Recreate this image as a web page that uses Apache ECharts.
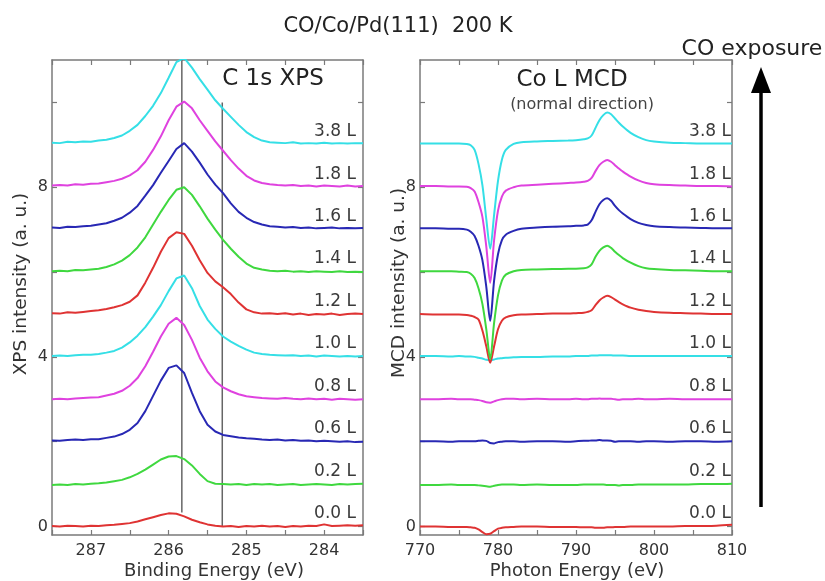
<!DOCTYPE html>
<html><head><meta charset="utf-8">
<script src="https://cdn.jsdelivr.net/npm/echarts@6/dist/echarts.min.js"></script>
<style>html,body{margin:0;padding:0;background:#fff}#c{width:825px;height:581px}</style>
</head><body><div id="c"></div>
<script>
// ---------------- DATA ----------------
const exposures = ['0.0 L','0.2 L','0.6 L','0.8 L','1.0 L','1.2 L','1.4 L','1.6 L','1.8 L','3.8 L'];
const baselines = [0,1,2,3,4,5,6,7,8,9];
const yTicks = [0,2,4,6,8,10];
const yLabels = [0,4,8];

// C 1s XPS : binding energy (eV)
const xpsEnergy = [287.5,287.4,287.3,287.2,287.1,287.0,286.9,286.8,286.7,286.6,286.5,286.4,286.3,286.2,286.1,286.0,285.9,285.8,285.7,285.6,285.5,285.4,285.3,285.2,285.1,285.0,284.9,284.8,284.7,284.6,284.5,284.4,284.3,284.2,284.1,284.0,283.9,283.8,283.7,283.6,283.5];
const xps_00 = [0.01,0.00,0.02,0.01,0.00,0.02,0.01,0.03,0.04,0.06,0.08,0.12,0.17,0.22,0.27,0.31,0.30,0.24,0.16,0.10,0.05,0.02,0.00,0.01,-0.01,0.01,0.00,0.02,0.00,0.01,-0.01,0.01,0.00,0.02,0.01,0.05,0.01,0.02,0.03,0.02,0.03];
const xps_02 = [0.98,0.99,0.98,1.00,0.99,1.01,1.02,1.04,1.07,1.10,1.16,1.24,1.34,1.46,1.58,1.65,1.66,1.59,1.44,1.24,1.07,1.01,1.00,0.99,1.00,0.98,1.00,0.99,1.00,0.98,0.99,1.00,0.98,0.99,1.00,0.99,0.98,1.00,0.99,1.00,1.01];
const xps_06 = [2.03,2.02,2.04,2.05,2.04,2.06,2.06,2.09,2.12,2.18,2.28,2.44,2.72,3.08,3.44,3.74,3.80,3.62,3.15,2.72,2.40,2.24,2.16,2.13,2.10,2.08,2.07,2.05,2.04,2.05,2.03,2.04,2.02,2.03,2.01,2.02,2.01,2.00,2.01,1.99,2.00];
const xps_08 = [3.00,3.01,3.00,3.02,3.03,3.04,3.05,3.09,3.13,3.20,3.32,3.50,3.78,4.12,4.48,4.78,4.92,4.75,4.40,3.98,3.66,3.42,3.28,3.19,3.12,3.07,3.05,3.03,3.02,3.01,3.03,3.01,3.00,3.02,3.00,3.01,2.99,3.01,3.00,2.99,3.00];
const xps_10 = [4.02,4.03,4.02,4.04,4.05,4.05,4.07,4.10,4.14,4.22,4.34,4.50,4.70,4.95,5.22,5.55,5.85,5.92,5.62,5.20,4.88,4.66,4.48,4.36,4.26,4.17,4.10,4.07,4.05,4.04,4.03,4.04,4.02,4.03,4.01,4.03,4.02,4.01,4.02,4.01,4.02];
const xps_12 = [5.03,5.02,5.05,5.04,5.06,5.08,5.10,5.13,5.17,5.22,5.30,5.45,5.75,6.10,6.48,6.80,6.94,6.90,6.62,6.28,5.98,5.78,5.64,5.48,5.28,5.12,5.05,5.02,5.03,5.01,5.03,5.00,5.02,4.99,5.01,5.00,5.02,4.99,5.01,5.02,5.01];
const xps_14 = [6.02,6.03,6.02,6.05,6.04,6.06,6.08,6.12,6.18,6.27,6.40,6.58,6.82,7.12,7.42,7.70,7.94,8.00,7.82,7.55,7.26,7.00,6.76,6.55,6.36,6.20,6.10,6.06,6.03,6.02,6.03,6.01,6.02,6.00,6.02,6.01,6.00,6.02,6.00,6.01,6.00];
const xps_16 = [7.05,7.04,7.07,7.06,7.08,7.09,7.12,7.15,7.21,7.28,7.40,7.56,7.80,8.05,8.34,8.62,8.90,9.04,8.84,8.58,8.30,8.06,7.86,7.62,7.42,7.28,7.18,7.12,7.08,7.07,7.05,7.06,7.04,7.05,7.03,7.04,7.05,7.03,7.04,7.03,7.04];
const xps_18 = [8.04,8.05,8.04,8.07,8.06,8.08,8.09,8.12,8.15,8.20,8.28,8.40,8.60,8.88,9.20,9.58,9.90,10.02,9.86,9.58,9.33,9.08,8.86,8.64,8.44,8.27,8.16,8.10,8.07,8.05,8.04,8.05,8.03,8.04,8.02,8.04,8.03,8.02,8.04,8.02,8.03];
const xps_38 = [9.05,9.04,9.07,9.06,9.08,9.07,9.10,9.12,9.16,9.22,9.33,9.47,9.68,9.92,10.22,10.58,10.95,11.05,10.82,10.55,10.30,10.05,9.85,9.66,9.47,9.30,9.18,9.10,9.06,9.05,9.04,9.06,9.03,9.04,9.03,9.05,9.03,9.04,9.03,9.04,9.04];
// reference lines in the XPS panel
const refLineEnergy = [285.83, 285.31];
const refLineFrom = [0.33, 0];
const refLineTo = [11, 10];

// Co L MCD : photon energy (eV)
const mcdEnergy = [770,772,774,775,776,776.5,777,777.5,778,778.5,779,779.5,780,780.5,781,782,783,785,787,789,790,791,791.5,792,792.5,793,793.5,794,794.5,795,795.5,796,797,798,799,800,802,804,806,808,810];
const mcd_00 = [0.00,0.00,-0.01,-0.01,-0.01,-0.02,-0.03,-0.07,-0.13,-0.18,-0.17,-0.11,-0.05,-0.03,-0.02,-0.01,0.00,0.00,-0.01,-0.01,-0.01,-0.02,-0.02,-0.02,-0.03,-0.03,-0.03,-0.02,-0.02,-0.01,-0.01,-0.01,0.00,0.00,0.00,0.00,0.00,0.01,0.01,0.02,0.04];
const mcd_02 = [0.98,0.98,0.99,0.98,0.98,0.98,0.98,0.97,0.96,0.95,0.94,0.96,0.98,0.99,0.99,0.99,0.98,0.99,0.98,0.98,0.98,0.99,0.99,0.99,0.99,0.99,0.99,0.98,0.98,0.98,0.97,0.98,0.98,0.99,0.99,0.99,0.99,0.99,1.00,1.00,1.01];
const mcd_06 = [2.01,2.01,2.00,2.01,2.01,2.01,2.01,2.02,2.03,2.02,1.97,1.96,1.99,2.00,2.01,2.01,2.00,2.01,2.01,2.00,2.01,2.02,2.02,2.03,2.03,2.04,2.03,2.03,2.02,2.00,2.01,2.01,2.01,2.00,2.01,2.01,2.00,2.01,2.01,2.00,2.01];
const mcd_08 = [3.00,3.00,3.01,3.00,3.00,3.00,2.99,2.98,2.96,2.93,2.92,2.95,2.98,3.00,3.01,3.01,3.00,3.01,3.00,3.00,3.01,3.00,3.00,3.01,3.01,3.02,3.01,3.01,3.01,3.00,2.99,3.00,3.00,3.01,3.00,3.00,3.01,3.00,3.00,3.00,3.00];
const mcd_10 = [4.02,4.02,4.01,4.02,4.01,4.01,4.00,3.98,3.96,3.93,3.92,3.94,3.96,3.97,3.98,3.99,4.00,4.00,4.01,4.01,4.02,4.02,4.02,4.03,4.03,4.04,4.04,4.04,4.04,4.03,4.03,4.03,4.02,4.02,4.02,4.02,4.02,4.02,4.02,4.02,4.02];
const mcd_12 = [5.01,5.00,5.00,5.00,4.99,4.97,4.94,4.88,4.62,4.25,3.86,4.25,4.65,4.85,4.93,4.98,5.00,5.01,5.02,5.02,5.03,5.04,5.06,5.10,5.22,5.33,5.40,5.44,5.41,5.35,5.29,5.24,5.16,5.11,5.08,5.06,5.04,5.03,5.02,5.01,5.01];
const mcd_14 = [6.02,6.02,6.02,6.01,6.00,5.96,5.86,5.62,5.25,4.65,3.95,4.80,5.45,5.80,5.94,6.02,6.05,6.06,6.07,6.08,6.08,6.09,6.11,6.18,6.36,6.50,6.58,6.62,6.57,6.48,6.40,6.33,6.22,6.14,6.09,6.07,6.05,6.04,6.03,6.02,6.02];
const mcd_16 = [7.03,7.03,7.02,7.02,7.00,6.95,6.85,6.62,6.28,5.65,4.85,5.80,6.42,6.75,6.88,6.97,7.02,7.05,7.07,7.08,7.09,7.10,7.12,7.22,7.42,7.60,7.70,7.74,7.68,7.56,7.46,7.38,7.25,7.16,7.11,7.08,7.06,7.05,7.04,7.03,7.03];
const mcd_18 = [8.03,8.03,8.02,8.02,8.01,7.98,7.90,7.65,7.30,6.60,5.75,6.75,7.45,7.78,7.92,8.00,8.04,8.06,8.08,8.10,8.11,8.13,8.15,8.22,8.38,8.52,8.60,8.64,8.60,8.52,8.44,8.37,8.25,8.16,8.10,8.07,8.05,8.04,8.03,8.03,8.02];
const mcd_38 = [9.03,9.03,9.03,9.03,9.02,8.99,8.88,8.55,8.05,7.25,6.55,7.35,8.15,8.65,8.88,9.02,9.06,9.08,9.09,9.10,9.11,9.13,9.15,9.22,9.40,9.58,9.70,9.76,9.72,9.62,9.52,9.43,9.28,9.18,9.11,9.08,9.05,9.04,9.03,9.03,9.03];

// ---------------- CHART ----------------
const xpsCurves = [xps_00,xps_02,xps_06,xps_08,xps_10,xps_12,xps_14,xps_16,xps_18,xps_38];
const mcdCurves = [mcd_00,mcd_02,mcd_06,mcd_08,mcd_10,mcd_12,mcd_14,mcd_16,mcd_18,mcd_38];
const palette = ['#df3333','#3fd83f','#2828b4','#df42df','#35dfe6','#df3333','#3fd83f','#2828b4','#df42df','#35dfe6'];
const FONT = '"DejaVu Sans", "Liberation Sans", sans-serif';
const zip = (xs, ys) => xs.map((x, i) => [x, ys[i]]);

const chart = echarts.init(document.getElementById('c'));
const frame = {show: true, onZero: false, lineStyle: {color: '#7a7a7a', width: 1.5}};
const tick = {show: true, inside: true, length: 5, lineStyle: {color: '#7a7a7a', width: 1.2}};
const tickLabel = {color: '#333', fontSize: 16, fontFamily: FONT};

function xAx(grid, pos, min, max, interval, inverse, labelEvery) {
  return {
    type: 'value', gridIndex: grid, position: pos, min: min, max: max, interval: interval, inverse: inverse,
    axisLine: frame, axisTick: tick, splitLine: {show: false},
    axisLabel: pos === 'bottom'
      ? Object.assign({margin: 8, formatter: v => (Math.abs(v / labelEvery - Math.round(v / labelEvery)) < 1e-6 ? String(Math.round(v)) : '')}, tickLabel)
      : {show: false}
  };
}
function yAx(grid, pos) {
  return {
    type: 'value', gridIndex: grid, position: pos, min: -0.2, max: 11,
    axisLine: frame,
    axisTick: Object.assign({customValues: yTicks}, tick),
    splitLine: {show: false},
    axisLabel: pos === 'left' ? Object.assign({customValues: yLabels, margin: 4}, tickLabel) : {show: false}
  };
}

const series = [];
refLineEnergy.forEach((e, i) => {
  series.push({type: 'line', xAxisIndex: 0, yAxisIndex: 0, symbol: 'none', silent: true, z: 1,
    lineStyle: {color: '#666', width: 1.5}, data: [[e, refLineFrom[i]], [e, refLineTo[i]]]});
});
xpsCurves.forEach((c, i) => {
  series.push({type: 'line', xAxisIndex: 0, yAxisIndex: 0, symbol: 'none', z: 3,
    lineStyle: {color: palette[i], width: 2}, data: zip(xpsEnergy, c)});
});
mcdCurves.forEach((c, i) => {
  series.push({type: 'line', xAxisIndex: 2, yAxisIndex: 2, symbol: 'none', smooth: 0.3, z: 3,
    lineStyle: {color: palette[i], width: 2}, data: zip(mcdEnergy, c)});
});

chart.setOption({
  animation: false,
  backgroundColor: '#fff',
  grid: [
    {left: 52, top: 60, width: 311, height: 475},
    {left: 420, top: 60, width: 312, height: 475}
  ],
  xAxis: [
    xAx(0, 'bottom', 283.5, 287.5, 0.5, true, 1),
    xAx(0, 'top', 283.5, 287.5, 0.5, true, 1),
    xAx(1, 'bottom', 770, 810, 5, false, 10),
    xAx(1, 'top', 770, 810, 5, false, 10)
  ],
  yAxis: [yAx(0, 'left'), yAx(0, 'right'), yAx(1, 'left'), yAx(1, 'right')],
  series: series
});

// ---------------- ANNOTATIONS ----------------
function txt(text, x, y, size, opts) {
  return Object.assign({type: 'text', x: x, y: y, silent: true,
    style: Object.assign({text: text, fontSize: size, fontFamily: FONT, fill: '#222',
      align: 'center', verticalAlign: 'middle', textAlign: 'center', textVerticalAlign: 'middle'}, (opts && opts.style) || {})},
    (opts && opts.el) || {});
}
const g = [];
g.push(txt('CO/Co/Pd(111)  200 K', 398, 27, 21));
g.push(txt('CO exposure', 752, 49, 22));
g.push(txt('C 1s XPS', 273, 79, 23));
g.push(txt('Co L MCD', 572, 80, 23));
g.push(txt('(normal direction)', 582, 105, 16, {style: {fill: '#444'}}));
g.push(txt('Binding Energy (eV)', 214, 571, 18, {style: {fill: '#333'}}));
g.push(txt('Photon Energy (eV)', 577, 571, 18, {style: {fill: '#333'}}));
g.push(txt('XPS intensity (a. u.)', 21, 284, 18.5, {style: {fill: '#333'}, el: {rotation: Math.PI / 2}}));
g.push(txt('MCD intensity (a. u.)', 399, 283, 18.5, {style: {fill: '#333'}, el: {rotation: Math.PI / 2}}));

const xpsIdx = refLineEnergy.length;
const mcdIdx = xpsIdx + xpsCurves.length;
exposures.forEach((lab, i) => {
  const p = chart.convertToPixel({seriesIndex: xpsIdx}, [283.5, baselines[i]]);
  g.push(txt(lab, p[0] - 7, p[1] - 13, 17, {style: {fill: '#3a3a3a', align: 'right', textAlign: 'right'}}));
  const q = chart.convertToPixel({seriesIndex: mcdIdx}, [810, baselines[i]]);
  g.push(txt(lab, q[0] - 1, q[1] - 13, 17, {style: {fill: '#3a3a3a', align: 'right', textAlign: 'right'}}));
});
// exposure arrow
g.push({type: 'line', silent: true, shape: {x1: 761, y1: 507, x2: 761, y2: 88}, style: {stroke: '#000', lineWidth: 3.5}});
g.push({type: 'polygon', silent: true, shape: {points: [[761, 67], [751, 93], [771, 93]]}, style: {fill: '#000'}});

chart.setOption({graphic: g});
</script>
</body></html>
